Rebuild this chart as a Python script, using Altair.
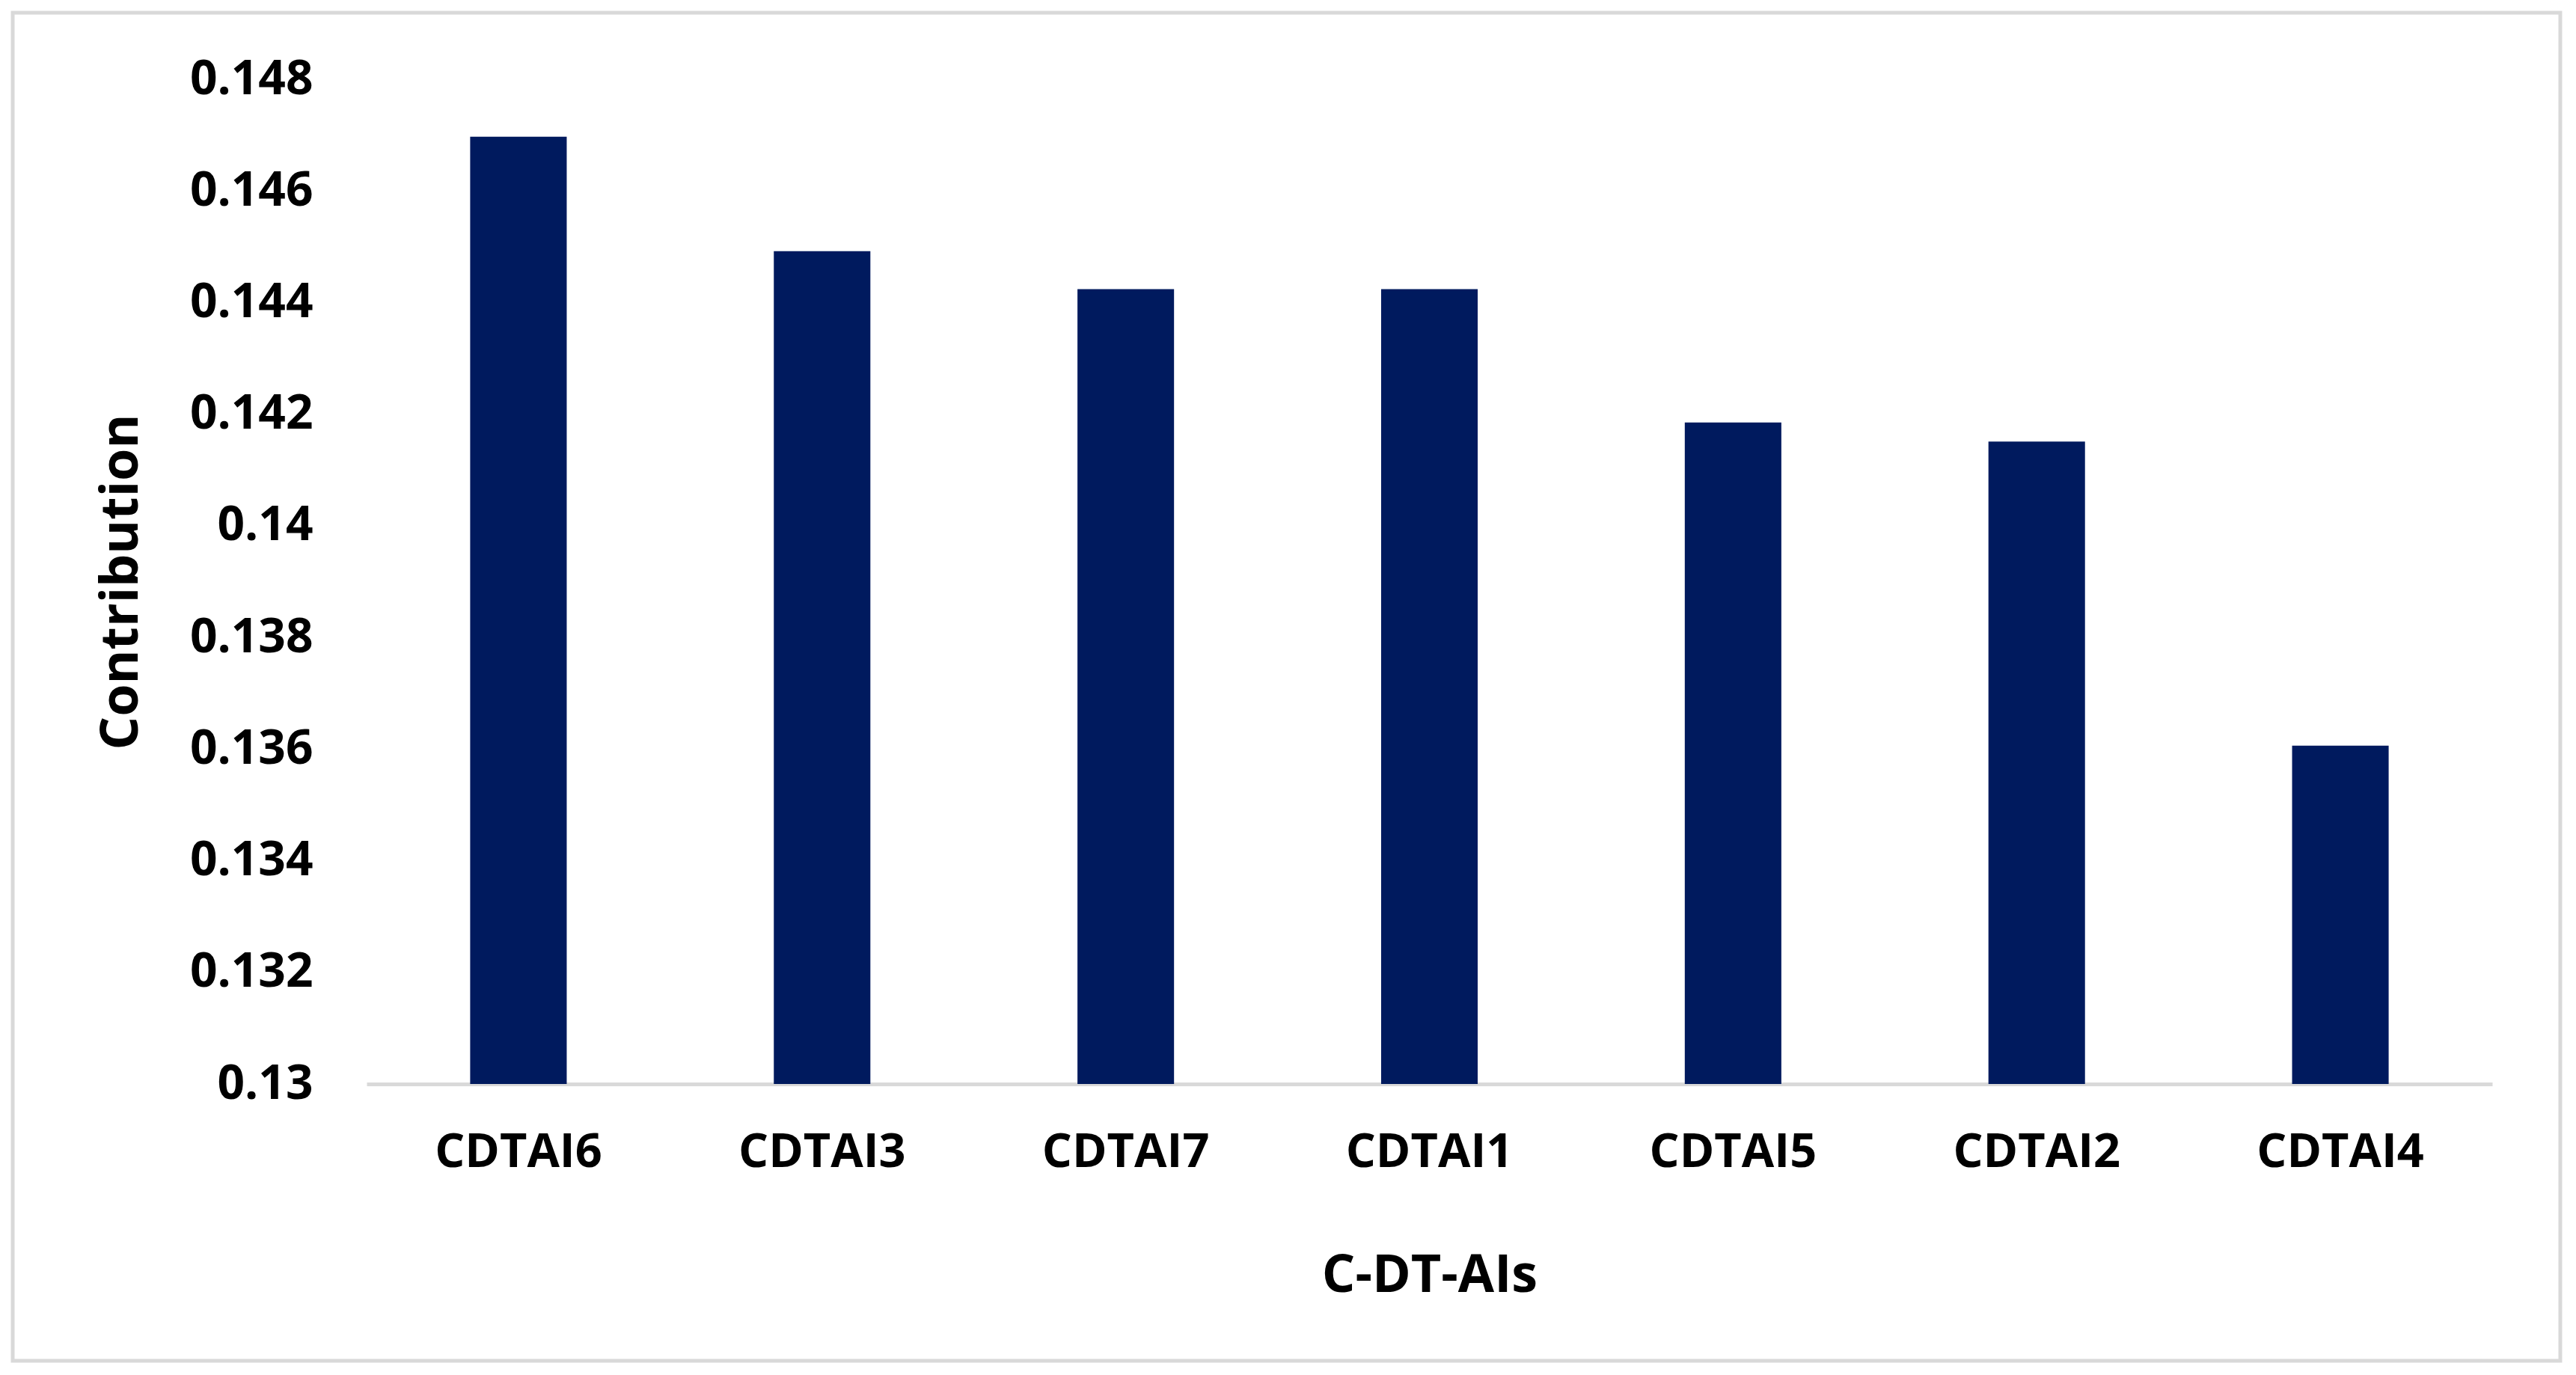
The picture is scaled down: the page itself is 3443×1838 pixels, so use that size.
import altair as alt
import pandas as pd

categories = ["CDTAI6", "CDTAI3", "CDTAI7", "CDTAI1", "CDTAI5", "CDTAI2", "CDTAI4"]
values = [0.14697, 0.14492, 0.14424, 0.14424, 0.14185, 0.14151, 0.13606]
y_ticks = [0.13, 0.132, 0.134, 0.136, 0.138, 0.14, 0.142, 0.144, 0.146, 0.148]

df = pd.DataFrame({"cat": categories, "val": values})

FONT = "Open Sans"
W, H = 2841, 1343

base = alt.Chart(df)

border = base.mark_rect(fill="white", fillOpacity=0, stroke="#d9d9d9", strokeWidth=5, clip=False).encode(
    x=alt.value(-473), x2=alt.value(2932), y=alt.value(-89), y2=alt.value(1713)
).transform_filter(alt.datum.cat == "CDTAI6")

bars = base.mark_bar(color="#001A5E", clip=True).encode(
    x=alt.X("cat:N", sort=categories,
            scale=alt.Scale(paddingInner=0.682, paddingOuter=0.341),
            axis=alt.Axis(title="C-DT-AIs", labelAngle=0, labelFont=FONT, labelFontWeight="bold",
                          labelFontSize=63, labelColor="black", labelPadding=60, labelLimit=0,
                          titleFont=FONT, titleFontWeight="bold", titleFontSize=70,
                          titleColor="black", titlePadding=99,
                          domainColor="#d9d9d9", domainWidth=5, ticks=False)),
    y=alt.Y("val:Q", scale=alt.Scale(domain=[0.13, 0.148], nice=False, zero=False),
            axis=alt.Axis(title="Contribution", values=y_ticks, format=".3~f",
                          labelFont=FONT, labelFontWeight="bold", labelFontSize=64,
                          labelColor="black", labelPadding=72, labelLimit=0,
                          titleFont=FONT, titleFontWeight="bold", titleFontSize=70,
                          titleColor="black", titlePadding=92,
                          domain=False, ticks=False, grid=False)),
)

chart = alt.layer(border, bars).properties(
    width=W, height=H,
    autosize=alt.AutoSizeParams(type="none"),
    padding={"left": 482, "top": 98, "right": 94, "bottom": 373},
).configure_view(stroke=None)

chart.save("out.html", embed_options={"renderer": "svg", "actions": False})
